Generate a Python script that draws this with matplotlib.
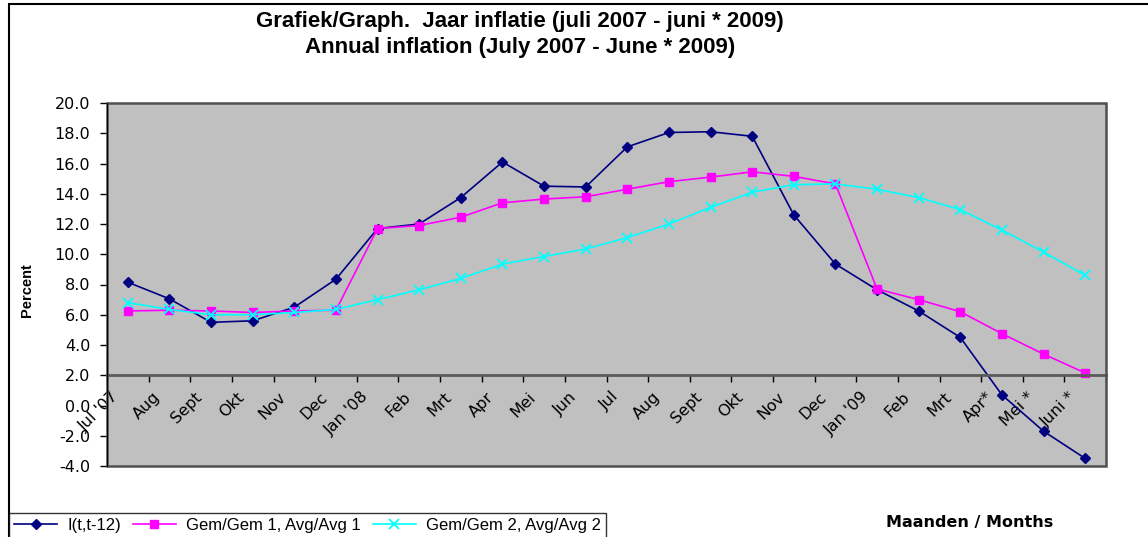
import numpy as np
import matplotlib.pyplot as plt
import matplotlib.transforms as mtransforms
from matplotlib.patches import Rectangle
from matplotlib.ticker import NullFormatter

# Maanden (juli 2007 - juni 2009)
months = ["Jul '07", "Aug", "Sept", "Okt", "Nov", "Dec", "Jan '08", "Feb", "Mrt",
          "Apr", "Mei", "Jun", "Jul", "Aug", "Sept", "Okt", "Nov", "Dec", "Jan '09",
          "Feb", "Mrt", "Apr*", "Mei *", "Juni *"]

# I(t,t-12)
infl = [8.15, 7.05, 5.5, 5.6, 6.5, 8.35, 11.7, 12.0, 13.75, 16.1, 14.5, 14.45,
        17.1, 18.05, 18.1, 17.8, 12.6, 9.35, 7.65, 6.25, 4.5, 0.7, -1.7, -3.5]
# Gem/Gem 1, Avg/Avg 1
avg1 = [6.25, 6.3, 6.25, 6.15, 6.25, 6.3, 11.7, 11.9, 12.45, 13.4, 13.65, 13.8,
        14.3, 14.8, 15.1, 15.45, 15.15, 14.65, 7.7, 7.0, 6.2, 4.75, 3.4, 2.15]
# Gem/Gem 2, Avg/Avg 2
avg2 = [6.8, 6.35, 6.0, 6.0, 6.15, 6.35, 7.0, 7.65, 8.4, 9.35, 9.85, 10.35,
        11.1, 12.0, 13.1, 14.1, 14.6, 14.65, 14.3, 13.75, 12.95, 11.6, 10.15, 8.6]

plt.rcParams['font.family'] = 'Liberation Sans'
plt.rcParams['axes.unicode_minus'] = False

W, H = 1148, 537
fig = plt.figure(figsize=(W / 100, H / 100), dpi=100)
ax = fig.add_axes([107 / W, 1 - 466 / H, (1106 - 107) / W, (466 - 103) / H])
ax.set_facecolor('#C0C0C0')

x = np.arange(len(months))
ax.plot(x, infl, color='#000080', marker='D', ms=5.5, lw=1.2, label='I(t,t-12)')
ax.plot(x, avg1, color='#FF00FF', marker='s', ms=6, lw=1.2, label='Gem/Gem 1, Avg/Avg 1')
ax.plot(x, avg2, color='#00FFFF', marker='x', ms=7, mew=1.3, lw=1.2,
        label='Gem/Gem 2, Avg/Avg 2')

ax.set_xlim(-0.5, len(months) - 0.5)
ax.set_ylim(-4, 20)
ax.set_yticks(np.arange(-4, 21, 2))
ax.yaxis.set_major_formatter('{x:.1f}')
ax.tick_params(axis='y', length=5, width=1, pad=7, labelsize=11.5)
for lab in ax.get_yticklabels():
    lab.set_family('DejaVu Sans')

# horizontal axis crosses at 2.0
ax.spines['bottom'].set_position(('data', 2))
ax.spines['bottom'].set_color('#5a5a5a')
ax.spines['bottom'].set_linewidth(2)
ax.spines['top'].set_visible(False)
ax.spines['right'].set_visible(False)
ax.spines['left'].set_color('black')
ax.spines['left'].set_zorder(5)
ax.add_patch(Rectangle((0, 0), 1, 1, transform=ax.transAxes, fill=False,
                       edgecolor='#505050', lw=1.8, clip_on=False, zorder=4))

ax.set_xticks(np.arange(-0.5, len(months), 1))
ax.xaxis.set_major_formatter(NullFormatter())
ax.set_xticks(x, minor=True)
ax.set_xticklabels(months, minor=True, rotation=45, ha='right', fontsize=11.5,
                   family='DejaVu Sans')
ax.tick_params(axis='x', which='major', length=5, width=1, direction='out')
ax.tick_params(axis='x', which='minor', length=0, pad=10)
offset = mtransforms.ScaledTranslation(-0.06, 0, fig.dpi_scale_trans)
for lab in ax.get_xticklabels(minor=True):
    lab.set_transform(lab.get_transform() + offset)

fig.text(520 / W, 1 - 21 / H, 'Grafiek/Graph.  Jaar inflatie (juli 2007 - juni * 2009)',
         ha='center', va='center', fontsize=16, fontweight='bold')
fig.text(520 / W, 1 - 47 / H, 'Annual inflation (July 2007 - June * 2009)',
         ha='center', va='center', fontsize=16, fontweight='bold')
fig.text(27 / W, 1 - 290 / H, 'Percent', rotation=90, ha='center', va='center',
         fontsize=10.5, fontweight='bold')
fig.text(970 / W, 1 - 523 / H, 'Maanden / Months', ha='center', va='center',
         fontsize=11.5, fontweight='bold', family='DejaVu Sans')

# chart border
fig.add_artist(Rectangle((9 / W, -0.1), 1.2, 1.1 - 4 / H, transform=fig.transFigure,
                         fill=False, edgecolor='black', lw=1.5))

leg = fig.legend(loc='upper left', bbox_to_anchor=(9 / W, 1 - 513 / H), ncol=3,
                 fontsize=12, frameon=True, fancybox=False, edgecolor='black',
                 handlelength=2.6, handletextpad=0.6, columnspacing=0.7,
                 borderaxespad=0, borderpad=0.3)
leg.get_frame().set_linewidth(1)

fig.savefig('out.png', dpi=100)
